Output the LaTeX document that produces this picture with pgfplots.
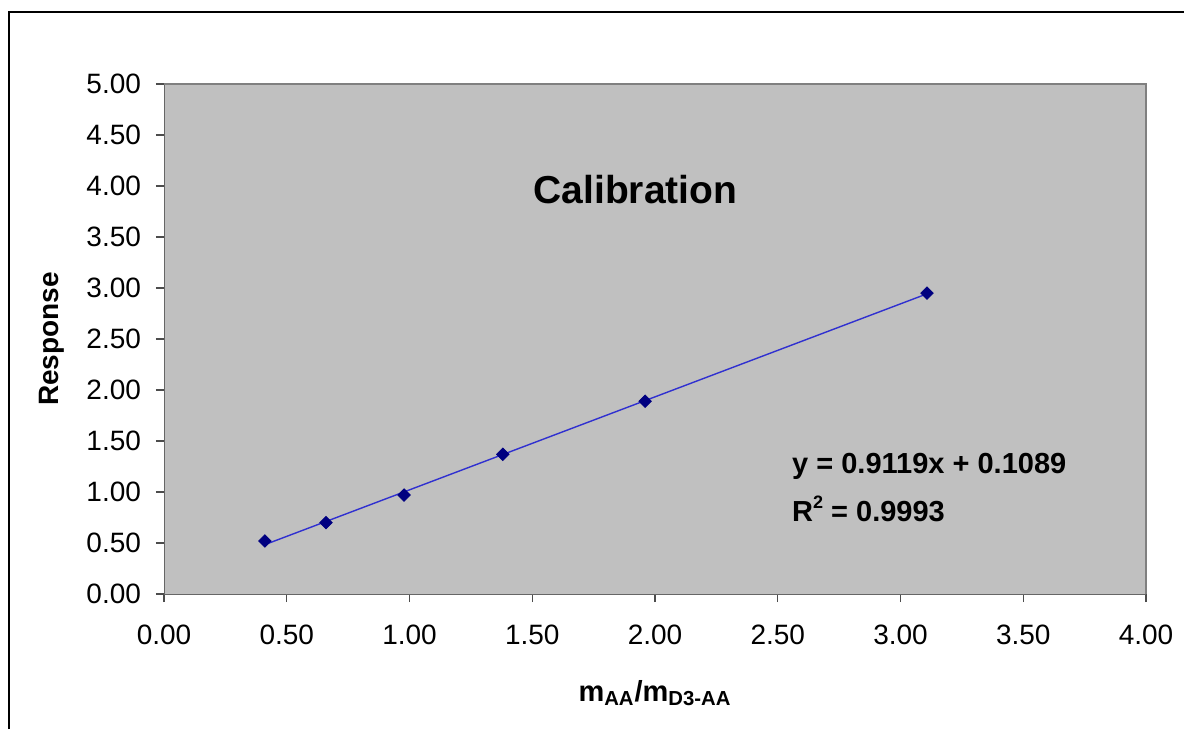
\documentclass[border=0pt]{standalone}
\usepackage{pgfplots}
\pgfplotsset{compat=1.18}
\usepackage{fontspec}
\setmainfont{Liberation Sans}
\definecolor{plotgray}{HTML}{C0C0C0}
\definecolor{navy}{HTML}{000080}
\definecolor{fitblue}{HTML}{3030D0}
\begin{document}
\begin{tikzpicture}
% image is 1184x729 px, 1 px = 0.5pt
\useasboundingbox (0,0) rectangle (592pt,364.5pt);
\draw[black, line width=0.8pt] (4.5pt,0) -- (4.5pt,358.5pt) -- (592pt,358.5pt);
\begin{axis}[
    at={(82pt,67.5pt)},
    anchor=south west,
    scale only axis,
    width=491pt,
    height=255pt,
    xmin=0, xmax=4,
    ymin=0, ymax=5,
    xtick={0,0.5,...,4},
    ytick={0,0.5,...,5},
    axis background/.style={fill=plotgray},
    axis line style={draw=gray!80!black},
    axis x line*=bottom,
    axis y line*=left,
    tick align=outside,
    major tick length=4pt,
    tick style={black!70, line width=0.6pt},
    ticklabel style={font=\fontsize{14}{16}\selectfont},
    xticklabel style={yshift=-8pt},
    yticklabel style={xshift=-4pt},
    /pgf/number format/.cd, fixed, fixed zerofill, precision=2, assume math mode=true,
    /pgfplots/.cd,
    xlabel={\textbf{m\textsubscript{AA}/m\textsubscript{D3-AA}}},
    ylabel={\textbf{Response}},
    xlabel style={at={(axis description cs:0.5,-0.194)}, anchor=center, font=\fontsize{14.5}{16}\selectfont},
    ylabel style={at={(axis description cs:-0.114,0.5)}, anchor=center, font=\fontsize{14}{16}\selectfont},
    clip=false,
]
% gray frame on top and right of the plot area
\draw[gray, line width=0.8pt] (axis cs:0,5) -- (axis cs:4,5) -- (axis cs:4,0);
% linear trendline, endpoints at first and last x
\addplot[fitblue, line width=0.7pt] coordinates {
    (0.411, 0.484)
    (3.108, 2.943)
};
\addplot[only marks, mark=square*, mark size=2.2pt, mark options={rotate=45}, color=navy] coordinates {
    (0.411, 0.52)
    (0.66, 0.70)
    (0.978, 0.97)
    (1.38, 1.37)
    (1.96, 1.89)
    (3.108, 2.95)
};
\node[font=\bfseries\fontsize{19.5}{22}\selectfont] at (axis cs:1.92,3.97) {Calibration};
\node[anchor=west, font=\bfseries\fontsize{14.5}{17}\selectfont] at (axis cs:2.53,1.255) {y = 0.9119x + 0.1089};
\node[anchor=west, font=\bfseries\fontsize{14.5}{17}\selectfont] at (axis cs:2.53,0.83) {R\raisebox{0.45em}{\fontsize{9}{10}\selectfont 2} = 0.9993};
\end{axis}
\end{tikzpicture}
\end{document}
